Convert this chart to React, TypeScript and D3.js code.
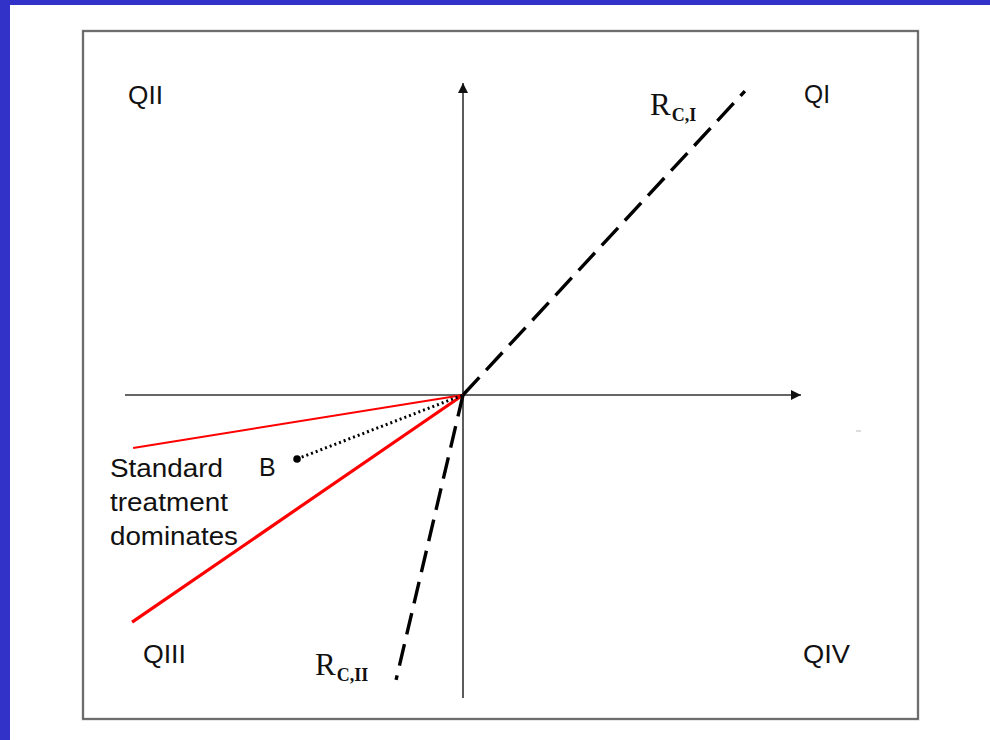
import React from "react";
import * as d3 from "d3";

// Data (in abstract quadrant units; origin = (0,0))
const axisX = [[-1, 0], [1, 0]];
const axisY = [[0, -0.971], [0, 1]];
const rcI = [[0, 0], [0.834, 0.974]];
const rcII = [[0, 0], [-0.198, -0.913]];
const redThin = [[0, 0], [-0.976, -0.17]];
const redThick = [[0, 0], [-0.979, -0.728]];
const pointB = [-0.491, -0.205];
const dottedB = [pointB, [0, 0]];

const quadLabels = ["QI", "QII", "QIII", "QIV"];
const quadPos = [[1.009, 0.936], [-0.991, 0.933], [-0.947, -0.859], [1.006, -0.859]];
const quadWidths = [26, 35, 43, 47];
const noteLines = ["Standard", "treatment", "dominates"];
const noteWidths = [113, 118, 128];

const W = 990;
const H = 740;

export default function App() {
  const x = d3.scaleLinear().domain([-1, 1]).range([125, 801]);
  const y = d3.scaleLinear().domain([-1, 1]).range([707, 83]);
  const line = d3
    .line<number[]>()
    .x((d) => x(d[0]))
    .y((d) => y(d[1]));

  const sans = "'Liberation Sans', Arial, sans-serif";
  const serif = "'Liberation Serif', 'Times New Roman', serif";

  return (
    <svg
      width={W}
      height={H}
      style={{ position: "absolute", left: 0, top: 0, display: "block" }}
    >
      <rect x={0} y={0} width={W} height={H} fill="#ffffff" />
      <rect x={0} y={0} width={W} height={5} fill="#3232c8" />
      <rect x={0} y={0} width={10} height={H} fill="#3232c8" />
      <rect x={83} y={31} width={835} height={688} fill="none" stroke="#cfcfcf" strokeWidth={3} />
      <rect x={83} y={31} width={835} height={688} fill="none" stroke="#555" strokeWidth={1.6} />

      <defs>
        <marker id="arr" viewBox="0 0 10 10" refX={10} refY={5} markerWidth={10} markerHeight={10} markerUnits="userSpaceOnUse" orient="auto">
          <path d="M0,0 L10,5 L0,10 z" fill="#111" />
        </marker>
      </defs>

      {/* axes */}
      <path d={line(axisX as any) || ""} stroke="#333" strokeWidth={1.6} fill="none" markerEnd="url(#arr)" />
      <path d={line(axisY as any) || ""} stroke="#333" strokeWidth={1.6} fill="none" markerEnd="url(#arr)" />

      {/* red lines */}
      <path d={line(redThin as any) || ""} stroke="#ff0000" strokeWidth={2} fill="none" />
      <path d={line(redThick as any) || ""} stroke="#ff0000" strokeWidth={3.2} fill="none" />

      {/* dashed lines */}
      <path d={line(rcI as any) || ""} stroke="#000" strokeWidth={3.4} strokeDasharray="24,10" fill="none" />
      <path d={line(rcII as any) || ""} stroke="#000" strokeWidth={3.4} strokeDasharray="22,10" fill="none" />

      {/* dotted line to B */}
      <path d={line(dottedB as any) || ""} stroke="#000" strokeWidth={3} strokeDasharray="2,3" fill="none" />
      <circle cx={x(pointB[0])} cy={y(pointB[1])} r={3.8} fill="#000" />

      {/* tiny artifact */}
      <line x1={856} y1={431} x2={861} y2={431} stroke="#bbb" strokeWidth={1} />

      {/* quadrant labels */}
      {quadLabels.map((q, i) => (
        <text
          key={q}
          x={x(quadPos[i][0])}
          y={y(quadPos[i][1])}
          fontFamily={sans}
          fontSize={25}
          fill="#111"
          textLength={quadWidths[i]}
          lengthAdjust="spacingAndGlyphs"
        >
          {q}
        </text>
      ))}

      {/* note */}
      {noteLines.map((t, i) => (
        <text
          key={t}
          x={110}
          y={477 + i * 34}
          fontFamily={sans}
          fontSize={25}
          fill="#111"
          textLength={noteWidths[i]}
          lengthAdjust="spacingAndGlyphs"
        >
          {t}
        </text>
      ))}
      <text x={259} y={476} fontFamily={sans} fontSize={25} fill="#111">
        B
      </text>

      {/* R labels */}
      <text x={650} y={115} fontFamily={serif} fontSize={31} fill="#111">
        R
        <tspan fontSize={18} fontWeight="bold" dx={1} dy={6}>C,I</tspan>
      </text>
      <text x={315} y={675} fontFamily={serif} fontSize={31} fill="#111">
        R
        <tspan fontSize={18} fontWeight="bold" dx={1} dy={6}>C,II</tspan>
      </text>
    </svg>
  );
}
